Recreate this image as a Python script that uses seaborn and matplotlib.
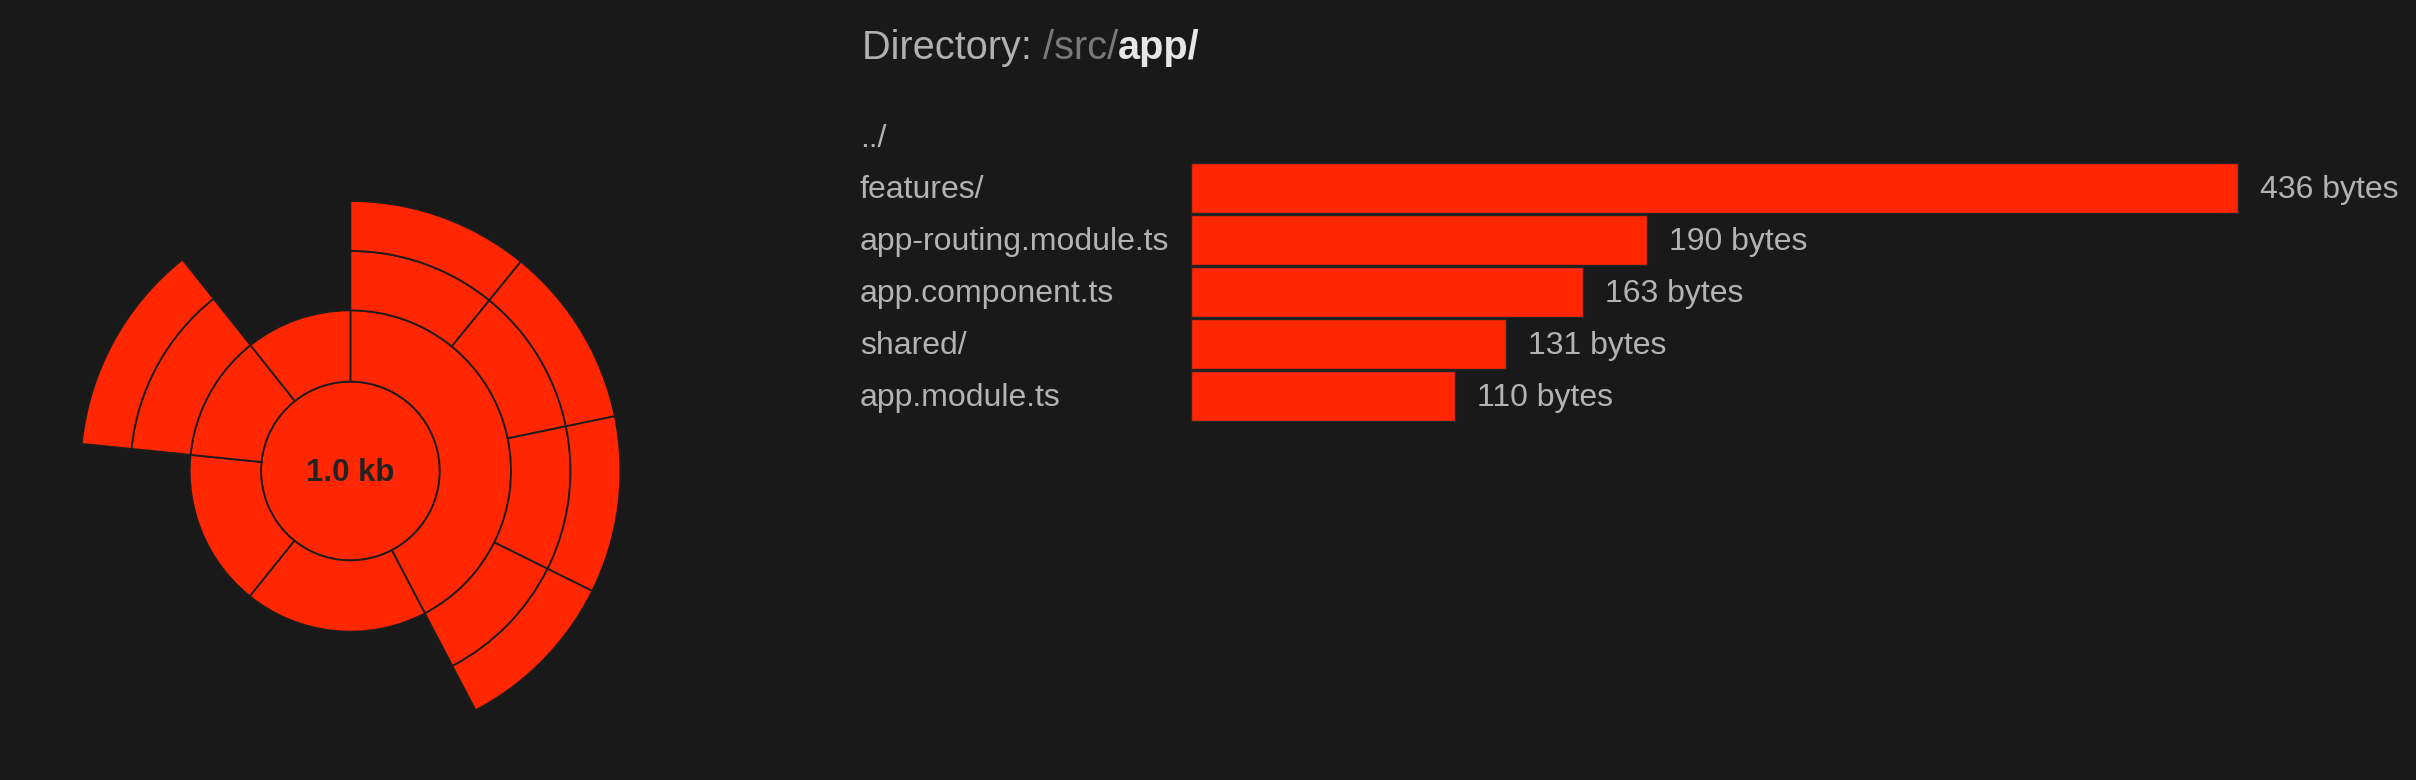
import matplotlib
matplotlib.use("Agg")
import matplotlib.pyplot as plt
from matplotlib.patches import Wedge, Circle
import matplotlib.transforms as mtransforms
import seaborn as sns
import pandas as pd

# ---------------- data ----------------
dir_prefix = "Directory: "
dir_parent = "/src/"
dir_current = "app/"
up_label = "../"

level1_names = ["features/", "app-routing.module.ts", "app.component.ts", "shared/", "app.module.ts"]
level1_sizes = [436, 190, 163, 131, 110]

level2_names = ["features/home/", "features/auth/", "features/profile/", "features/settings/", "shared/ui/"]
level2_parent = [0, 0, 0, 0, 3]
level2_sizes = [112, 112, 109, 103, 131]

level3_names = ["home.ts", "auth.ts", "profile.ts", "settings.ts", "ui.ts"]
level3_parent = [0, 1, 2, 3, 4]
level3_sizes = [112, 112, 109, 103, 131]

# ---------------- style ----------------
BG = "#191919"
RED = "#ff2600"
EDGE = "#1c1c1c"
TXT = "#b3b3b3"

sns.set_theme(style="dark", rc={"figure.facecolor": BG, "axes.facecolor": BG,
                                "savefig.facecolor": BG})
plt.rcParams["font.family"] = ["Liberation Sans", "DejaVu Sans"]

W, H = 2416, 780
fig = plt.figure(figsize=(W / 100, H / 100), dpi=100)

# ---------------- sunburst ----------------
R_PX = 270.0
cx, cy = 350.4, 471.0
half = 1.05 * R_PX
ax_s = fig.add_axes([(cx - half) / W, (H - cy - half) / H, 2 * half / W, 2 * half / H])
ax_s.set_xlim(-1.05, 1.05)
ax_s.set_ylim(-1.05, 1.05)
ax_s.set_aspect("equal")
ax_s.axis("off")

radii = [0.331, 0.595, 0.815, 1.0]
total = sum(level1_sizes)


def place(sizes, parents, parent_starts):
    starts = []
    cursor = {}
    for s, p in zip(sizes, parents):
        base = parent_starts[p] if p is not None else 0.0
        off = cursor.get(p, 0.0)
        starts.append(base + off)
        cursor[p] = off + s
    return starts


l1_starts = place(level1_sizes, [None] * len(level1_sizes), None)
l2_starts = place(level2_sizes, level2_parent, l1_starts)
l3_starts = place(level3_sizes, level3_parent, l2_starts)

ax_s.add_patch(Circle((0, 0), radii[0], facecolor=RED, edgecolor=EDGE, linewidth=1.3))
for starts, sizes, (rin, rout) in [(l1_starts, level1_sizes, (radii[0], radii[1])),
                                   (l2_starts, level2_sizes, (radii[1], radii[2])),
                                   (l3_starts, level3_sizes, (radii[2], radii[3]))]:
    for st, sz in zip(starts, sizes):
        t2 = 90 - 360.0 * st / total
        t1 = 90 - 360.0 * (st + sz) / total
        ax_s.add_patch(Wedge((0, 0), rout, t1, t2, width=rout - rin,
                             facecolor=RED, edgecolor=EDGE, linewidth=1.3))

ax_s.text(0, -9.7 / R_PX, f"{total / 1000:.1f} kb", ha="center", va="baseline",
          fontsize=22.5, fontweight="bold", color="#222222")

# ---------------- bar list ----------------
x0_px = 1191.3
px_per_byte = 2.401
row_px = 52.0
first_center = 187.7
top_px = first_center - 1.5 * row_px
n_rows = len(level1_names) + 1
ax_b = fig.add_axes([x0_px / W, (H - top_px - n_rows * row_px) / H,
                     (W - x0_px) / W, n_rows * row_px / H])

df = pd.DataFrame({"name": level1_names, "size": level1_sizes})
sns.barplot(data=df, x="size", y="name", orient="h", color=RED, saturation=1,
            width=0.96, edgecolor="#262626", linewidth=1, ax=ax_b)
ax_b.set_xlim(0, (W - x0_px) / px_per_byte)
ax_b.set_ylim(len(level1_names) - 0.5, -1.5)
ax_b.axis("off")

blend = mtransforms.blended_transform_factory(fig.transFigure, ax_b.transData)
base_off = 10.0 / row_px
label_x = 860 / W
ax_b.text(label_x, -1 + 11.0 / row_px, up_label, transform=blend, ha="left",
          va="baseline", fontsize=23, color=TXT)
for i, (nm, sz) in enumerate(zip(level1_names, level1_sizes)):
    ax_b.text(label_x, i + base_off, nm, transform=blend, ha="left", va="baseline",
              fontsize=23, color=TXT)
    ax_b.annotate(f"{sz} bytes", xy=(sz, i + base_off), xytext=(22 * 0.72, 0),
                  textcoords="offset points", ha="left", va="baseline",
                  fontsize=23, color=TXT)

# ---------------- title ----------------
renderer = fig.canvas.get_renderer()
tx = 862 / W
ty = 1 - 59.3 / H
parts = [(dir_prefix, "#b0b0b0", "normal"), (dir_parent, "#7a7a7a", "normal"),
         (dir_current, "#e6e6e6", "bold")]
for txt, col, wt in parts:
    t = fig.text(tx, ty, txt, ha="left", va="baseline", fontsize=28.6, color=col,
                 fontweight=wt)
    bb = t.get_window_extent(renderer=renderer)
    tx += bb.width / W

fig.savefig("out.png", dpi=100, facecolor=BG)
